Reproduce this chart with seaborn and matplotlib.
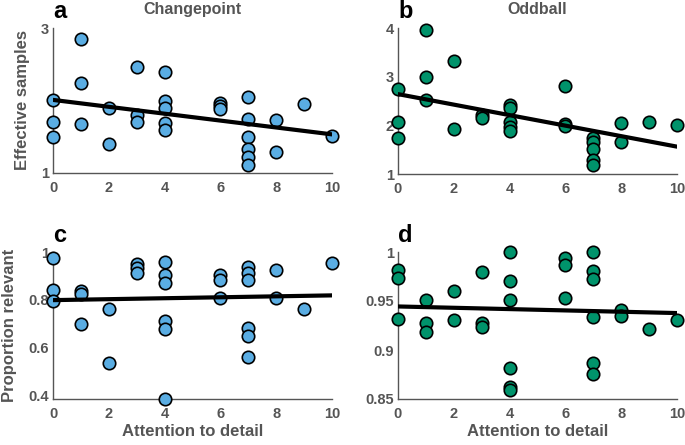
import numpy as np
import pandas as pd
import matplotlib
matplotlib.use("Agg")
import matplotlib.pyplot as plt
import seaborn as sns

# ---- data ----
cp_x = [0, 0, 0, 1, 1, 1, 2, 2, 3, 3, 3, 4, 4, 4, 4, 4, 6, 6, 6, 7, 7, 7, 7, 7, 7, 8, 8, 9, 10]
cp_eff = [2.01, 1.71, 1.49, 2.85, 2.24, 1.68, 1.89, 1.40, 2.46, 1.80, 1.70, 2.39, 2.00, 1.89, 1.69, 1.60,
          1.97, 1.92, 1.88, 2.05, 1.75, 1.50, 1.33, 1.22, 1.11, 1.73, 1.29, 1.95, 1.51]

ob_x = [0, 0, 0, 1, 1, 1, 2, 2, 3, 3, 4, 4, 4, 4, 4, 6, 6, 6, 7, 7, 7, 7, 7, 8, 8, 9, 10]
ob_eff = [2.75, 2.06, 1.75, 3.95, 2.99, 2.52, 3.32, 1.92, 2.21, 2.16, 2.41, 2.35, 2.06, 1.97, 1.89,
          2.81, 2.03, 1.99, 1.73, 1.65, 1.51, 1.29, 1.19, 2.04, 1.65, 2.06, 2.00]

cp_x2 = [0, 0, 0, 1, 1, 1, 2, 2, 3, 3, 3, 4, 4, 4, 4, 4, 4, 6, 6, 6, 7, 7, 7, 7, 7, 7, 8, 8, 9, 10]
cp_prop = [0.976, 0.842, 0.796, 0.836, 0.825, 0.699, 0.761, 0.536, 0.949, 0.932, 0.914,
           0.957, 0.904, 0.869, 0.710, 0.679, 0.383, 0.904, 0.883, 0.806,
           0.936, 0.911, 0.881, 0.682, 0.647, 0.561, 0.924, 0.806, 0.763, 0.956]

ob_x2 = [0, 0, 0, 1, 1, 1, 2, 2, 3, 3, 3, 4, 4, 4, 4, 4, 4, 6, 6, 6, 7, 7, 7, 7, 7, 7, 8, 8, 9, 10]
ob_prop = [0.982, 0.973, 0.932, 0.951, 0.928, 0.918, 0.960, 0.931, 0.980, 0.928, 0.923,
           1.000, 0.970, 0.951, 0.882, 0.862, 0.859, 0.994, 0.987, 0.953,
           1.000, 0.981, 0.972, 0.934, 0.887, 0.876, 0.941, 0.935, 0.921, 0.931]

blue = "#5aade3"
green = "#00936b"
gray = "#555555"

sns.set_style("white")
plt.rcParams["font.family"] = ["Liberation Sans", "DejaVu Sans"]
plt.rcParams["font.weight"] = "bold"

fig = plt.figure(figsize=(6.85, 4.45), dpi=100)
W, H = 685, 445

def axes_px(l, t, r, b):
    return fig.add_axes([l / W, 1 - b / H, (r - l) / W, (b - t) / H])

ax_a = axes_px(53, 28, 332, 173)
ax_b = axes_px(398, 28, 677, 174)
ax_c = axes_px(53, 252, 332, 399)
ax_d = axes_px(398, 252, 677, 399)

panels = [
    (ax_a, cp_x, cp_eff, blue, (1, 3), [1, 2.5, 3], ["1", "", "3"], "a", "Changepoint", "Effective samples", None),
    (ax_b, ob_x, ob_eff, green, (1, 4), [1, 2, 3, 4], ["1", "2", "3", "4"], "b", "Oddball", None, None),
    (ax_c, cp_x2, cp_prop, blue, (0.385, 1.0), [0.4, 0.6, 0.8, 1.0], ["0.4", "0.6", "0.8", "1"], "c", None,
     "Proportion relevant", "Attention to detail"),
    (ax_d, ob_x2, ob_prop, green, (0.85, 1.0), [0.85, 0.9, 0.95, 1.0], ["0.85", "0.9", "0.95", "1"], "d", None,
     None, "Attention to detail"),
]

for ax, xs, ys, col, ylim, yt, ytl, letter, title, ylabel, xlabel in panels:
    df = pd.DataFrame({"x": xs, "y": ys})
    sns.regplot(data=df, x="x", y="y", ax=ax, ci=None,
                scatter_kws=dict(s=80, color=col, edgecolor="black", linewidths=1.2, alpha=1, zorder=3),
                line_kws=dict(color="black", lw=3, zorder=4))
    ax.set_xlim(0, 10)
    ax.set_ylim(*ylim)
    ax.set_xticks([0, 2, 4, 6, 8, 10])
    ax.set_xticklabels(["0", "2", "4", "6", "8", "10"])
    ax.set_yticks(yt)
    ax.set_yticklabels(ytl)
    for s in ["top", "right"]:
        ax.spines[s].set_visible(False)
    for s in ["left", "bottom"]:
        ax.spines[s].set_color(gray)
        ax.spines[s].set_linewidth(1.0)
    ax.tick_params(direction="in", length=3, width=0.8, color=gray, labelcolor=gray,
                   labelsize=10.5)
    ax.tick_params(axis="x", pad=6)
    ax.tick_params(axis="y", pad=3)
    for lab in ax.get_xticklabels() + ax.get_yticklabels():
        lab.set_fontweight("bold")
    ax.set_xlabel(xlabel if xlabel else "", fontsize=12, fontweight="bold", color=gray, labelpad=2)
    ax.set_ylabel(ylabel if ylabel else "", fontsize=12, fontweight="bold", color=gray, labelpad=8)
    if title:
        ax.set_title(title, fontsize=11.5, fontweight="bold", color=gray, pad=10)
    ax_h = ax.get_position().height * H
    ax.text(0.0, 1 + 10 / ax_h, letter, transform=ax.transAxes, fontsize=17, fontweight="bold",
            color="black", ha="left", va="baseline")
    for c in ax.collections:
        c.set_clip_on(False)

fig.savefig("out.png", dpi=100)
